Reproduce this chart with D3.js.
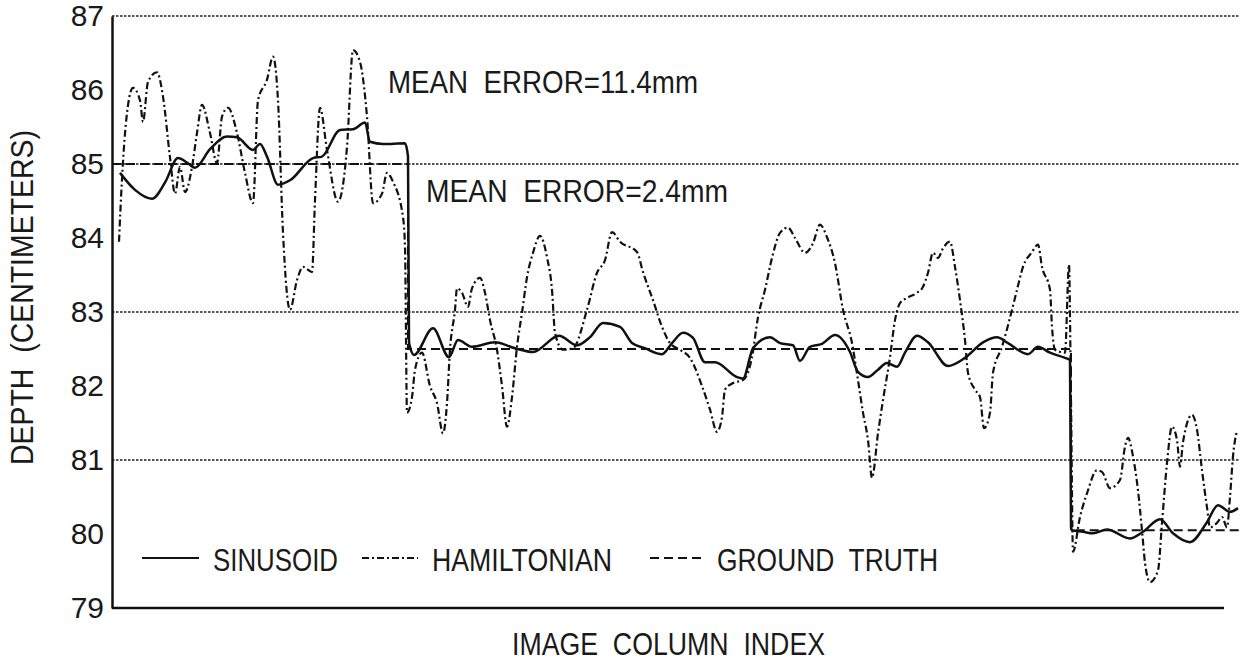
<!DOCTYPE html>
<html>
<head>
<meta charset="utf-8">
<script src="https://cdn.jsdelivr.net/npm/d3@7"></script>
<style>
  body { margin: 0; background: #fff; }
  text { font-family: "Liberation Sans", Arial, sans-serif; fill: #1a1a1a; }
  .tick text { font-size: 30px; }
</style>
</head>
<body>
<div class="svg-container"></div>
<script>
var width = 1247;
var height = 671;

// depth ticks (centimeters)
var depthTicks = [79, 80, 81, 82, 83, 84, 85, 86, 87];
var gridDepths = [87, 85, 83, 81];

// [image column index, depth in cm]
var sinusoid = [[8,84.88],[23,84.65],[40,84.53],[53,84.75],[66,85.08],[75,85.02],[83,84.95],[98,85.2],
  [115,85.37],[125,85.36],[141,85.19],[148,85.27],[155,85.1],[166,84.72],[178,84.78],[201,85.08],
  [210,85.1],[228,85.46],[241,85.47],[253,85.56],[258,85.3],[271,85.27],[293,85.28],[296,85.1],
  [297,82.6],[298,82.53],[302,82.42],[321,82.78],[337,82.39],[346,82.62],[360,82.53],[383,82.59],
  [403,82.51],[421,82.46],[447,82.68],[465,82.55],[478,82.66],[491,82.85],[508,82.8],[520,82.58],
  [533,82.51],[550,82.43],[560,82.58],[571,82.72],[581,82.65],[593,82.32],[603,82.32],[625,82.12],
  [631,82.1],[641,82.51],[658,82.66],[668,82.58],[681,82.55],[688,82.34],[698,82.53],[710,82.57],
  [723,82.69],[738,82.46],[746,82.19],[756,82.12],[766,82.22],[775,82.31],[785,82.26],[793,82.45],
  [805,82.68],[816,82.59],[836,82.27],[853,82.38],[871,82.59],[885,82.66],[896,82.58],[916,82.43],
  [926,82.53],[938,82.45],[953,82.38],[958,82.35],[959,80.1],[960,80.05],[971,80.03],[981,80.01],
  [995,80.06],[1018,79.94],[1031,80.03],[1048,80.2],[1061,80.01],[1078,79.89],[1095,80.16],
  [1106,80.39],[1118,80.3],[1126,80.35]];

var hamiltonian = [[7,83.95],[10,84.8],[15,85.69],[21,86.03],[28,85.86],[31,85.57],[36,86.11],[45,86.24],
  [51,85.91],[58,85.09],[63,84.6],[68,84.96],[73,84.62],[80,84.96],[85,85.42],[90,85.8],[98,85.42],
  [105,85.01],[110,85.64],[116,85.76],[125,85.42],[133,84.88],[141,84.47],[146,85.86],[155,86.14],
  [161,86.45],[166,85.86],[171,84.07],[178,83.03],[185,83.43],[191,83.61],[200,83.54],[203,84.51],
  [208,85.76],[215,85.19],[226,84.49],[235,85.23],[241,86.54],[248,86.38],[255,85.64],[261,84.47],
  [270,84.6],[275,84.88],[281,84.76],[291,84.28],[293,83.88],[295,81.64],[300,81.85],[303,82.22],
  [310,82.45],[318,82.0],[325,81.77],[331,81.36],[335,81.77],[338,82.49],[343,83.03],[345,83.32],
  [350,83.26],[356,83.07],[360,83.32],[368,83.46],[373,83.26],[378,82.89],[385,82.49],[390,82.0],
  [395,81.45],[400,81.85],[405,82.53],[410,82.99],[415,83.47],[421,83.8],[428,84.03],[435,83.74],
  [440,83.3],[443,82.72],[451,82.49],[461,82.51],[475,83.03],[485,83.53],[493,83.7],[500,84.08],
  [508,83.95],[525,83.81],[531,83.54],[541,83.16],[550,82.8],[558,82.58],[568,82.49],[578,82.38],
  [590,82.0],[598,81.68],[605,81.38],[610,81.58],[613,81.95],[621,82.04],[631,82.08],[640,82.39],
  [646,82.93],[653,83.3],[660,83.73],[668,84.07],[676,84.14],[683,84.0],[693,83.8],[701,83.93],
  [708,84.18],[715,84.01],[723,83.66],[731,83.03],[740,82.58],[746,82.08],[751,81.64],[756,81.27],
  [760,80.76],[766,81.36],[771,81.81],[778,82.39],[783,82.89],[788,83.12],[795,83.19],[805,83.26],
  [811,83.34],[816,83.53],[821,83.8],[826,83.73],[831,83.86],[838,83.95],[843,83.61],[848,83.16],
  [853,82.62],[856,82.18],[863,81.95],[868,81.85],[872,81.43],[878,81.64],[881,82.18],[890,82.53],
  [900,83.03],[905,83.3],[911,83.61],[920,83.81],[926,83.91],[930,83.61],[938,83.3],[940,82.8],
  [943,82.49],[953,82.45],[957,83.64],[959,81.8],[961,79.76],[968,80.23],[975,80.55],[985,80.86],
  [990,80.84],[998,80.62],[1008,80.73],[1013,81.18],[1016,81.3],[1021,81.05],[1026,80.59],
  [1030,80.05],[1033,79.61],[1038,79.35],[1046,79.51],[1050,80.15],[1055,80.96],[1060,81.45],
  [1065,81.27],[1068,80.91],[1071,81.24],[1080,81.61],[1085,81.41],[1090,80.86],[1095,80.36],
  [1098,80.09],[1105,80.15],[1110,80.23],[1115,80.09],[1118,80.5],[1121,81.05],[1125,81.4]];

var groundTruth = [[0,85],[296,85],[296,82.5],[959,82.5],[959,80.05],[1127,80.05]];

var legendNames = ["SINUSOID", "HAMILTONIAN", "GROUND  TRUTH"];

var svg = d3.select(".svg-container")
            .append("svg")
            .attr("width", width)
            .attr("height", height);

var scaleX = d3.scaleLinear().domain([0, 1127]).range([112, 1239]);
var scaleY = d3.scaleLinear().domain([79, 87]).range([608, 16]);

// dotted grid lines
svg.append("g")
   .selectAll("line")
   .data(gridDepths)
   .enter()
   .append("line")
   .attr("x1", scaleX(0))
   .attr("x2", scaleX(1127))
   .attr("y1", function(d) { return scaleY(d); })
   .attr("y2", function(d) { return scaleY(d); })
   .attr("stroke", "#222")
   .attr("stroke-width", 1.3)
   .attr("stroke-dasharray", "2.5,1.5");

// bottom axis line
svg.append("line")
   .attr("x1", scaleX(0))
   .attr("x2", scaleX(1112))
   .attr("y1", scaleY(79))
   .attr("y2", scaleY(79))
   .attr("stroke", "#111")
   .attr("stroke-width", 2.5);

// left axis
var yAxis = svg.append("g")
   .attr("transform", "translate(" + scaleX(0) + ",0)")
   .call(d3.axisLeft(scaleY).tickValues(depthTicks).tickSize(0).tickPadding(8));
yAxis.select(".domain").attr("stroke", "#111").attr("stroke-width", 2.5);

var lineGen = d3.line()
   .x(function(d) { return scaleX(d[0]); })
   .y(function(d) { return scaleY(d[1]); });

function drawLine(dataset, dash, widthPx, curve) {
    svg.append("path")
       .datum(dataset)
       .attr("fill", "none")
       .attr("stroke", "#111")
       .attr("stroke-width", widthPx)
       .attr("stroke-dasharray", dash)
       .attr("d", lineGen.curve(curve)(dataset));
}

drawLine(groundTruth, "9,5", 2, d3.curveLinear);
drawLine(hamiltonian, "7,3,2,3", 2.2, d3.curveMonotoneX);
drawLine(sinusoid, null, 2.5, d3.curveMonotoneX);

// annotation text
function addText(str, x, y, len, size, rotate) {
    var t = svg.append("text")
       .attr("x", x)
       .attr("y", y)
       .attr("font-size", size)
       .attr("textLength", len)
       .attr("lengthAdjust", "spacingAndGlyphs")
       .style("white-space", "pre")
       .text(str);
    if (rotate) { t.attr("transform", "rotate(-90," + x + "," + y + ")"); }
    return t;
}

addText("MEAN  ERROR=11.4mm", 388, 93, 310, 31);
addText("MEAN  ERROR=2.4mm", 426, 202, 302, 31);
addText("IMAGE  COLUMN  INDEX", 512, 655, 313, 31);
addText("DEPTH  (CENTIMETERS)", 33, 465, 335, 31, true);

// legend
var legendX = [[142, 199, 213, 125], [362, 418, 432, 180], [650, 702, 717, 221]];
var legendDash = [null, "7,3,2,3", "9,5"];
legendNames.forEach(function(name, i) {
    svg.append("line")
       .attr("x1", legendX[i][0])
       .attr("x2", legendX[i][1])
       .attr("y1", 558)
       .attr("y2", 558)
       .attr("stroke", "#111")
       .attr("stroke-width", 2)
       .attr("stroke-dasharray", legendDash[i]);
    addText(name, legendX[i][2], 571, legendX[i][3], 31);
});
</script>
</body>
</html>
